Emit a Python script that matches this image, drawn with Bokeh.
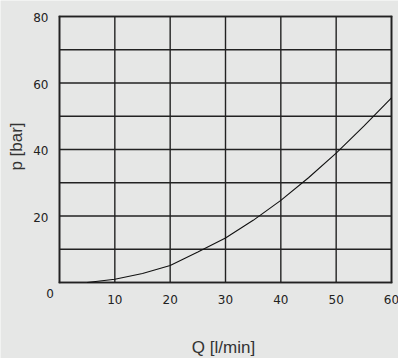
from bokeh.plotting import figure
from bokeh.models import Range1d
from bokeh.core.properties import value
from bokeh.embed import file_html
from bokeh.resources import INLINE
import math

# data
q = [5, 10, 15, 20, 25, 30, 35, 40, 45, 50, 55, 60]
p_bar = [0.0, 1.0, 2.7, 5.1, 9.2, 13.4, 18.7, 24.7, 31.5, 38.9, 47.0, 55.5]
x_ticks = [10, 20, 30, 40, 50, 60]
x_tick_labels = ["10", "20", "30", "40", "50", "60"]
y_ticks = [20, 40, 60, 80]
y_tick_labels = ["20", "40", "60", "80"]
x_grid = [0, 10, 20, 30, 40, 50, 60]
y_grid = [0, 10, 20, 30, 40, 50, 60, 70, 80]
x_title = "Q [l/min]"
y_title = "p [bar]"
origin_label = "0"

W, H = 398, 358
# plot-area placement on the canvas (pixels)
LEFT, RIGHT, TOP, BOTTOM = 59, 391, 16, 282
X0, X1 = 0, 60
Y0, Y1 = 0, 80
sx = (RIGHT - LEFT) / (X1 - X0)
sy = (BOTTOM - TOP) / (Y1 - Y0)

BG = "#e6e7e6"
INK = "#222222"
TICK_FONT = value("DejaVu Sans")
LABEL_FONT = value("Liberation Sans")

p = figure(width=W, height=H, output_backend="svg", toolbar_location=None,
           x_axis_location=None, y_axis_location=None,
           x_range=Range1d(X0 - LEFT / sx, X0 + (W - LEFT) / sx),
           y_range=Range1d(Y0 - (H - BOTTOM) / sy, Y1 + TOP / sy),
           min_border=0)
p.background_fill_color = BG
p.border_fill_color = BG
p.outline_line_color = None
p.grid.visible = False

# grid and frame
p.segment(x0=x_grid, y0=[Y0] * len(x_grid), x1=x_grid, y1=[Y1] * len(x_grid),
          line_color=INK, line_width=1.4)
p.segment(x0=[X0] * len(y_grid), y0=y_grid, x1=[X1] * len(y_grid), y1=y_grid,
          line_color=INK, line_width=1.4)
p.segment(x0=[X0, X1, X0, X0], y0=[Y0, Y0, Y0, Y1], x1=[X0, X1, X1, X1], y1=[Y1, Y1, Y0, Y1],
          line_color=INK, line_width=1.7, line_cap="square")

# curve
p.line(q, p_bar, line_color="#111111", line_width=1.1)

# tick labels
p.text(x=x_ticks, y=[Y0] * len(x_ticks), text=x_tick_labels, text_font=TICK_FONT,
       text_font_size="12px", text_color=INK, text_align="center",
       text_baseline="middle", y_offset=17)
p.text(x=[X0] * len(y_ticks), y=y_ticks, text=y_tick_labels, text_font=TICK_FONT,
       text_font_size="12px", text_color=INK, text_align="right",
       text_baseline="middle", x_offset=-11, y_offset=1)
p.text(x=[X0], y=[Y0], text=[origin_label], text_font=TICK_FONT,
       text_font_size="12px", text_color=INK, text_align="center",
       text_baseline="middle", x_offset=-9.5, y_offset=10.5)

# axis titles
p.text(x=[30], y=[Y0], text=[x_title], text_font=LABEL_FONT, text_font_size="17px",
       text_color="#333333", text_align="center", text_baseline="middle",
       x_offset=-2, y_offset=65)
p.text(x=[X0], y=[40], text=[y_title], text_font=LABEL_FONT, text_font_size="17px",
       text_color="#333333", text_align="center", text_baseline="middle",
       angle=math.pi / 2, x_offset=-43, y_offset=-3)

open("out.html", "w").write(file_html(p, INLINE))
